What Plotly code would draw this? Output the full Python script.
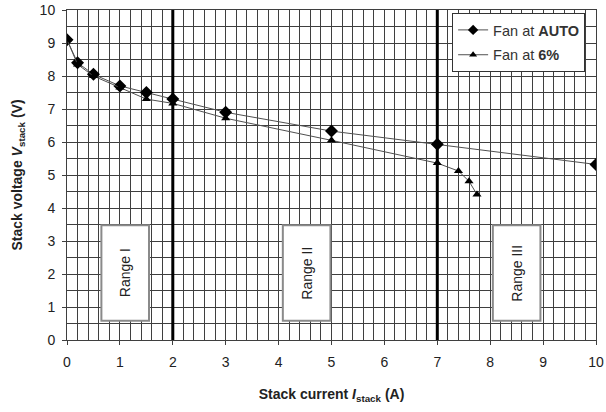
import plotly.graph_objects as go

# Data
current_auto = [0, 0.2, 0.5, 1, 1.5, 2, 3, 5, 7, 10]
voltage_auto = [9.1, 8.4, 8.05, 7.7, 7.5, 7.3, 6.9, 6.33, 5.93, 5.32]
current_6 = [0, 0.2, 0.5, 1, 1.5, 2, 3, 5, 7, 7.4, 7.6, 7.75]
voltage_6 = [9.1, 8.35, 8.0, 7.65, 7.3, 7.17, 6.72, 6.05, 5.36, 5.12, 4.81, 4.41]
range_labels = ["Range I", "Range II", "Range III"]
range_x0 = [0.65, 4.08, 8.05]
range_x1 = [1.55, 4.98, 8.95]
range_y0 = [0.58, 0.58, 0.58]
range_y1 = [3.48, 3.48, 3.48]
boundaries = [2, 7]
x_ticks = list(range(0, 11))
y_ticks = list(range(0, 11))

FONT = "Liberation Sans, Arial, sans-serif"
GRID = "#3f3f3f"
LINE = "#505050"

fig = go.Figure()
fig.add_trace(go.Scatter(
    x=current_auto, y=voltage_auto, mode="lines+markers",
    name="Fan at <b>AUTO</b>", showlegend=False,
    line=dict(color=LINE, width=1),
    marker=dict(symbol="diamond", size=10, color="black"),
))
fig.add_trace(go.Scatter(
    x=current_6, y=voltage_6, mode="lines+markers",
    name="Fan at <b>6%</b>", showlegend=False,
    line=dict(color=LINE, width=1),
    marker=dict(symbol="triangle-up", size=8, color="black"),
))
# legend-only entries (smaller legend symbols)
fig.add_trace(go.Scatter(
    x=[None], y=[None], mode="lines+markers", name="Fan at <b>AUTO</b>",
    legendgroup="a", line=dict(color=LINE, width=1),
    marker=dict(symbol="diamond", size=8, color="black"),
))
fig.add_trace(go.Scatter(
    x=[None], y=[None], mode="lines+markers", name="Fan at <b>6%</b>",
    legendgroup="b", line=dict(color=LINE, width=1),
    marker=dict(symbol="triangle-up", size=7, color="black"),
))

shapes = []
for b in boundaries:
    shapes.append(dict(type="line", xref="x", yref="y", x0=b, x1=b, y0=0, y1=10,
                       line=dict(color="black", width=3), layer="between"))
annotations = []
for lab, a, b, c, d in zip(range_labels, range_x0, range_x1, range_y0, range_y1):
    shapes.append(dict(type="rect", xref="x", yref="y", x0=a, x1=b, y0=c, y1=d,
                       fillcolor="white", line=dict(color="#8a8a8a", width=2), layer="between"))
    annotations.append(dict(x=(a + b) / 2, y=(c + d) / 2, xref="x", yref="y",
                            text=lab, textangle=-90, showarrow=False,
                            font=dict(family=FONT, size=14, color="#222")))

fig.update_layout(
    width=606, height=412,
    margin=dict(l=67, r=10, t=10, b=72),
    paper_bgcolor="white", plot_bgcolor="white",
    font=dict(family=FONT, size=14, color="#222"),
    shapes=shapes, annotations=annotations,
    showlegend=True,
    legend=dict(x=0.728, y=0.991, xanchor="left", yanchor="top",
                bgcolor="white", bordercolor="#333", borderwidth=1,
                font=dict(family=FONT, size=14.5, color="#333"),
                traceorder="grouped", tracegroupgap=3, itemwidth=30),
    xaxis=dict(range=[0, 10], tickvals=x_ticks, showgrid=True, gridcolor=GRID, gridwidth=1,
               minor=dict(dtick=0.2, showgrid=True, gridcolor=GRID, gridwidth=1),
               showline=True, linecolor=GRID, linewidth=1, mirror=True,
               ticks="outside", ticklen=4, tickcolor=GRID, zeroline=False,
               automargin=False, ticklabelstandoff=5, ticklabeloverflow="allow",
               title=dict(text="<b>Stack current <i>I</i><sub>stack</sub> (A)</b>",
                          font=dict(size=14, color="#222"), standoff=20)),
    yaxis=dict(range=[0, 10], tickvals=y_ticks, showgrid=True, gridcolor=GRID, gridwidth=1,
               minor=dict(dtick=0.5, showgrid=True, gridcolor=GRID, gridwidth=1),
               showline=True, linecolor=GRID, linewidth=1, mirror=True,
               ticks="outside", ticklen=4, tickcolor=GRID, zeroline=False,
               automargin=False, ticklabelstandoff=4, ticklabeloverflow="allow",
               title=dict(text="<b>Stack voltage <i>V</i><sub>stack</sub> (V)</b>",
                          font=dict(size=14, color="#222"), standoff=13)),
)

fig.write_html(
    "out.html",
    config={"displayModeBar": False},
    post_script="document.body.style.margin='0';document.body.style.overflow='hidden';",
)
